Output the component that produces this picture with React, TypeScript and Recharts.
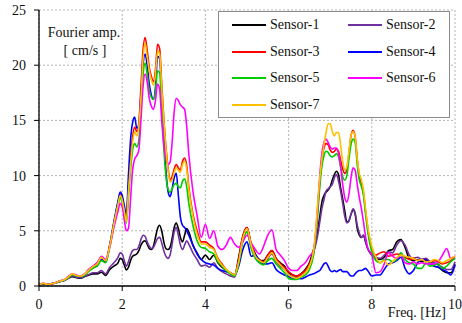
import { LineChart, Line, XAxis, YAxis, CartesianGrid, Legend, Label } from "recharts"

// frequency grid [Hz], finer around the peaks
const FREQ = [
  0, 0.1, 0.2, 0.3, 0.4, 0.5, 0.6, 0.7, 0.8, 0.9, 1, 1.1, 1.2, 1.3, 1.4, 1.5, 1.6, 1.7, 1.8,
  1.9, 1.95, 2, 2.05, 2.1, 2.15, 2.2, 2.25, 2.3, 2.35, 2.4, 2.45, 2.5, 2.55, 2.6, 2.65, 2.7, 2.75, 2.8, 2.85,
  2.9, 2.95, 3, 3.05, 3.1, 3.15, 3.2, 3.25, 3.3, 3.35, 3.4, 3.45, 3.5, 3.55, 3.6,
  3.7, 3.8, 3.9, 4, 4.1, 4.2, 4.3, 4.4, 4.5, 4.6, 4.7, 4.8, 4.9, 5, 5.1, 5.2, 5.3, 5.4, 5.5, 5.6, 5.7, 5.8,
  5.9, 6, 6.1, 6.2, 6.3, 6.4, 6.5,
  6.6, 6.65, 6.7, 6.75, 6.8, 6.85, 6.9, 6.95, 7, 7.05, 7.1, 7.15, 7.2, 7.25, 7.3, 7.35, 7.4, 7.45, 7.5, 7.55,
  7.6, 7.65, 7.7, 7.75, 7.8, 7.85, 7.9,
  8, 8.1, 8.2, 8.3, 8.4, 8.5, 8.6, 8.7, 8.8, 8.9, 9, 9.1, 9.2, 9.3, 9.4, 9.5, 9.6, 9.7, 9.8, 9.9, 10,
]

const SENSOR_1 = [
  0.1, 0.2, 0.15, 0.2, 0.3, 0.4, 0.5, 0.7, 0.85, 0.75, 0.7, 0.85, 1.0, 1.1, 1.1, 1.25, 0.95, 1.5, 1.8,
  2.1, 2.5, 2.4, 1.9, 1.45, 1.7, 2.3, 2.7, 2.8, 2.9, 3.2, 3.7, 4.0, 4.1, 3.8, 3.4, 3.3, 3.6, 4.4, 5.2, 5.5, 5.0,
  4.0, 3.4, 3.3, 3.5, 4.3, 5.3, 5.7, 5.2, 4.4, 4.0, 4.6, 5.2, 4.9,
  3.7, 3.0, 2.4, 2.8, 2.4, 2.8, 2.1, 1.7, 1.4, 1.1, 0.9, 2.6, 4.5, 5.3, 3.8, 2.9, 2.3, 2.3, 2.8, 3.2, 2.5, 2.1,
  1.8, 1.2, 1.0, 0.9, 1.1, 1.5, 2.1,
  3.3, 4.0, 5.0, 6.3, 7.6, 8.2, 8.5, 8.7, 9.0, 9.6, 10.1, 10.4, 10.1, 8.9, 7.9, 6.8, 5.8, 5.9, 6.5, 6.9, 6.5,
  5.2, 4.6, 4.4, 4.6, 4.0, 3.4,
  2.8, 2.5, 2.4, 2.6, 3.2, 3.3, 4.0, 4.2, 3.5, 2.5, 2.3, 2.4, 2.2, 2.3, 2.1, 1.8, 1.7, 1.4, 1.2, 1.2, 2.0,
]

const SENSOR_2 = [
  0.1, 0.2, 0.15, 0.2, 0.3, 0.4, 0.5, 0.7, 0.9, 0.8, 0.75, 0.9, 1.05, 1.2, 1.2, 1.4, 1.1, 1.7, 2.1,
  2.6, 3.0, 2.9, 2.3, 1.8, 2.2, 2.8, 3.2, 3.3, 3.3, 3.6, 4.2, 4.6, 4.5, 4.0, 3.6, 3.4, 3.5, 3.9, 4.3, 4.4, 3.9,
  3.2, 2.7, 2.5, 2.8, 3.8, 4.9, 5.3, 4.6, 3.7, 3.3, 3.7, 4.1, 3.8,
  3.0, 2.4, 1.8, 1.9, 1.7, 2.1, 1.6, 1.3, 1.1, 0.9, 0.8, 2.2, 4.2, 4.9, 3.5, 2.6, 2.1, 2.0, 2.5, 2.9, 2.2, 1.8,
  1.5, 1.0, 0.8, 0.8, 1.0, 1.3, 1.9,
  3.0, 3.7, 4.6, 5.8, 7.0, 7.8, 8.6, 8.8, 9.0, 9.2, 9.8, 10.1, 9.5, 8.6, 7.5, 6.3, 5.7, 5.9, 6.5, 7.0, 6.6,
  5.5, 4.8, 4.4, 4.6, 4.0, 3.4,
  2.9, 2.6, 2.5, 2.8, 3.1, 3.0, 3.7, 4.1, 3.7, 2.8, 2.5, 2.6, 2.4, 2.5, 2.2, 2.1, 1.9, 1.7, 1.5, 1.5, 2.2,
]

const SENSOR_3 = [
  0.1, 0.25, 0.15, 0.2, 0.3, 0.45, 0.55, 0.8, 1.0, 0.95, 0.9, 1.1, 1.5, 1.8, 2.1, 2.6, 2.3, 3.7, 5.7,
  7.5, 8.3, 7.9, 6.9, 6.0, 8.8, 11.5, 13.5, 14.4, 14.0, 14.8, 18.0, 21.3, 22.5, 21.4, 19.8, 19.0, 18.5, 19.6,
  21.9, 21.5, 18.3, 15.2, 12.6, 10.8, 9.6, 9.9, 10.6, 11.0, 10.7, 10.5, 11.3, 11.6, 10.9, 9.0,
  6.5, 5.0, 4.0, 4.0, 3.7, 3.4, 2.5, 2.0, 1.5, 1.2, 1.0, 2.4, 4.5, 5.3, 3.8, 2.8, 2.4, 2.2, 2.8, 3.2, 2.5, 2.0,
  1.7, 1.3, 1.0, 0.9, 1.1, 1.4, 2.0,
  3.0, 4.6, 7.0, 9.5, 11.5, 12.5, 12.9, 12.8, 12.3, 12.1, 12.2, 12.4, 12.2, 11.4, 10.6, 10.2, 10.5, 12.0, 13.6,
  14.1, 13.5, 11.5, 10.0, 9.3, 8.4, 6.8, 5.3,
  3.3, 2.8, 3.0, 3.1, 2.7, 2.8, 2.9, 2.8, 2.6, 2.4, 2.5, 2.3, 2.4, 2.4, 2.2, 2.3, 2.2, 2.0, 2.1, 2.3, 2.6,
]

const SENSOR_4 = [
  0.1, 0.2, 0.15, 0.2, 0.3, 0.45, 0.5, 0.8, 1.0, 0.9, 0.85, 1.05, 1.4, 1.7, 1.9, 2.4, 2.2, 3.7, 5.8,
  7.7, 8.5, 8.2, 7.3, 6.4, 10.0, 13.2, 14.8, 15.3, 14.3, 14.5, 17.2, 20.0, 21.0, 20.0, 18.3, 17.3, 16.9, 18.0,
  20.8, 20.6, 17.0, 13.5, 10.5, 8.6, 8.1, 8.8, 9.8, 10.2, 8.2, 6.2, 5.5, 5.3, 5.0, 4.6,
  3.7, 2.9, 2.4, 2.1, 2.0, 1.9, 1.6, 1.4, 1.3, 1.2, 1.0, 1.8, 3.3, 4.0, 2.7, 2.8, 2.3, 2.0, 2.0, 2.1, 1.5, 1.2,
  1.0, 0.85, 0.7, 0.7, 0.65, 0.8, 1.0,
  1.1, 1.2, 1.3, 1.4, 1.7, 2.0, 2.1, 1.8, 1.4, 1.3, 1.4, 1.3, 1.4, 1.5, 1.3, 1.3, 1.3, 1.1, 0.9, 0.9, 1.1,
  1.3, 1.4, 1.4, 1.5, 1.6, 1.4,
  0.9, 1.0, 1.0, 1.5, 2.0, 2.1, 2.3, 2.6, 1.6, 1.1, 1.4, 2.1, 2.4, 2.4, 2.0, 1.8, 1.7, 1.5, 1.3, 1.0, 1.9,
]

const SENSOR_5 = [
  0.1, 0.2, 0.15, 0.2, 0.3, 0.4, 0.5, 0.75, 1.0, 0.9, 0.85, 1.0, 1.35, 1.6, 1.8, 2.3, 2.1, 3.5, 5.5,
  7.3, 8.0, 7.6, 6.6, 5.7, 8.0, 10.5, 12.3, 12.9, 12.6, 13.2, 16.0, 19.0, 20.2, 19.2, 17.7, 17.1, 16.9, 17.6,
  19.5, 19.3, 16.0, 12.5, 10.0, 8.8, 8.5, 8.8, 9.2, 9.3, 9.0, 8.9, 9.5, 9.7, 9.0, 7.5,
  5.5, 4.1, 3.5, 3.4, 3.1, 2.9, 2.2, 1.8, 1.4, 1.1, 0.9, 2.0, 4.0, 4.9, 3.4, 2.5, 2.1, 1.9, 2.3, 2.5, 2.0, 1.6,
  1.2, 0.7, 0.6, 0.6, 0.8, 1.0, 1.5,
  2.8, 4.3, 6.5, 9.0, 10.8, 11.8, 12.2, 12.1, 11.8, 11.7, 11.8, 12.0, 11.7, 10.8, 9.9, 9.6, 10.0, 11.5, 12.8,
  13.3, 13.0, 11.0, 9.6, 9.0, 8.2, 6.5, 5.0,
  3.1, 2.3, 2.1, 2.4, 2.4, 2.2, 2.4, 3.0, 2.4, 2.1, 2.0, 1.6, 1.6, 2.1, 1.8, 1.9, 2.0, 1.6, 1.8, 2.2, 2.5,
]

const SENSOR_6 = [
  0.1, 0.25, 0.15, 0.2, 0.3, 0.45, 0.55, 0.85, 1.1, 1.0, 0.9, 1.1, 1.5, 1.8, 2.1, 2.7, 2.4, 3.5, 5.3,
  6.8, 7.5, 7.2, 6.0, 5.0, 5.2, 7.8, 10.5, 11.5, 11.8, 12.3, 15.0, 18.0, 19.2, 18.5, 17.0, 16.3, 16.0, 16.8,
  18.3, 17.8, 15.0, 12.8, 11.5, 11.0, 11.2, 13.0, 15.8, 17.0, 16.8, 16.4, 16.2, 16.0, 14.5, 12.0,
  8.6, 6.4, 4.4, 5.6, 4.3, 5.0, 3.6, 3.3, 3.7, 4.4, 3.8, 3.5, 4.0, 4.6, 3.9, 3.3, 2.9, 3.6, 4.6, 5.1, 3.3, 2.8,
  2.3, 1.6, 1.4, 1.4, 1.8, 2.1, 2.7,
  3.2, 4.8, 7.2, 10.0, 12.0, 13.0, 13.3, 13.0, 12.6, 12.4, 12.5, 12.5, 12.0, 10.8, 9.2, 8.0, 7.6, 8.3, 9.8,
  10.7, 10.5, 9.2, 8.0, 7.0, 5.8, 4.5, 3.5,
  2.8, 1.2, 1.3, 2.0, 3.0, 2.7, 2.5, 2.8, 2.1, 2.0, 2.2, 2.0, 2.1, 2.0, 2.0, 2.0, 2.2, 2.8, 3.4, 2.5, 2.7,
]

const SENSOR_7 = [
  0.1, 0.25, 0.15, 0.2, 0.3, 0.45, 0.55, 0.8, 1.1, 0.95, 0.9, 1.1, 1.45, 1.75, 2.0, 2.6, 2.3, 3.6, 5.6,
  7.4, 8.2, 7.8, 6.8, 5.8, 8.5, 11.0, 13.0, 14.0, 13.6, 14.5, 17.0, 20.5, 22.0, 20.8, 19.5, 18.7, 18.2, 19.2,
  21.3, 21.0, 18.0, 15.0, 12.5, 10.6, 9.4, 9.6, 10.3, 10.7, 10.5, 10.3, 11.0, 11.3, 10.6, 8.8,
  6.3, 4.7, 3.8, 3.8, 3.5, 3.3, 2.4, 1.9, 1.5, 1.2, 1.0, 2.2, 4.3, 5.2, 3.7, 2.7, 2.3, 2.1, 2.6, 3.0, 2.3, 1.9,
  1.5, 1.0, 0.8, 0.7, 0.9, 1.2, 1.8,
  3.2, 5.0, 7.5, 9.8, 11.5, 12.8, 13.9, 14.7, 14.7, 14.0, 13.6, 13.9, 13.9, 12.8, 11.3, 10.5, 10.8, 12.2, 13.6,
  14.0, 13.5, 11.5, 10.2, 9.6, 8.7, 7.0, 5.5,
  3.6, 2.6, 2.1, 2.3, 1.9, 2.2, 2.6, 2.8, 2.7, 2.6, 2.5, 2.3, 2.4, 2.2, 2.2, 2.4, 2.3, 2.1, 2.3, 2.5, 2.7,
]

const SERIES = [
  { key: "s1", name: "Sensor-1", color: "#000000", values: SENSOR_1 },
  { key: "s2", name: "Sensor-2", color: "#7030a0", values: SENSOR_2 },
  { key: "s3", name: "Sensor-3", color: "#ff0000", values: SENSOR_3 },
  { key: "s4", name: "Sensor-4", color: "#0000ff", values: SENSOR_4 },
  { key: "s5", name: "Sensor-5", color: "#00cc00", values: SENSOR_5 },
  { key: "s6", name: "Sensor-6", color: "#ff00ff", values: SENSOR_6 },
  { key: "s7", name: "Sensor-7", color: "#ffc000", values: SENSOR_7 },
]

const X_TICKS = [0, 2, 4, 6, 8, 10]
const Y_TICKS = [0, 5, 10, 15, 20, 25]

const FONT = "Liberation Serif, DejaVu Serif, Times New Roman, serif"

const data = FREQ.map((f, i) => {
  const row: { [k: string]: number } = { f }
  SERIES.forEach((s) => {
    row[s.key] = s.values[i]
  })
  return row
})

function LegendBox() {
  return (
    <div
      style={{
        width: 230,
        height: 105,
        border: "1px solid #8a8a8a",
        background: "#fff",
        display: "grid",
        gridTemplateColumns: "116px 114px",
        gridAutoRows: "26.5px",
        fontFamily: FONT,
        fontSize: 14,
        color: "#111",
      }}
    >
      {SERIES.map((s) => (
        <div key={s.key} style={{ display: "flex", alignItems: "center" }}>
          <span
            style={{
              display: "inline-block",
              width: 34,
              height: 2,
              background: s.color,
              marginLeft: 13,
              marginRight: 4,
            }}
          />
          <span>{s.name}</span>
        </div>
      ))}
    </div>
  )
}

export default function App() {
  const tickStyle = { fill: "#111", fontFamily: FONT, fontSize: 14 }
  return (
    <div style={{ position: "absolute", left: 0, top: 0, width: 462, height: 323, background: "#fff", fontFamily: FONT }}>
      <LineChart width={462} height={323} data={data} margin={{ top: 10, right: 7, left: 0, bottom: 0 }}>
        <CartesianGrid stroke="#b5b5b5" strokeDasharray="2 2" strokeWidth={1} />
        <XAxis
          dataKey="f"
          type="number"
          domain={[0, 10]}
          ticks={X_TICKS}
          height={37}
          tick={tickStyle}
          tickSize={5}
          tickMargin={8}
          axisLine={{ stroke: "#000", strokeWidth: 1.3 }}
          tickLine={{ stroke: "#000" }}
        >
          <Label
            content={() => (
              <text x={446} y={317} textAnchor="end" style={{ fontFamily: FONT, fontSize: 14 }} fill="#111">
                Freq. [Hz]
              </text>
            )}
          />
        </XAxis>
        <YAxis
          type="number"
          domain={[0, 25]}
          ticks={Y_TICKS}
          width={39}
          tick={tickStyle}
          tickSize={5}
          tickMargin={8}
          axisLine={{ stroke: "#000", strokeWidth: 1.3 }}
          tickLine={{ stroke: "#000" }}
        >
          <Label
            content={() => (
              <g style={{ fontFamily: FONT, fontSize: 14 }}>
                <text x={84} y={37} textAnchor="middle" fill="#111">
                  Fourier amp.
                </text>
                <text x={85} y={55} textAnchor="middle" fill="#111">
                  [ cm/s ]
                </text>
              </g>
            )}
          />
        </YAxis>
        <Legend
          layout="vertical"
          align="center"
          verticalAlign="middle"
          content={() => <LegendBox />}
          wrapperStyle={{ left: 218, top: 11, width: 232 }}
        />
        {SERIES.map((s) => (
          <Line
            key={s.key}
            type="monotone"
            dataKey={s.key}
            name={s.name}
            stroke={s.color}
            strokeWidth={1.6}
            dot={false}
            isAnimationActive={false}
          />
        ))}
      </LineChart>
    </div>
  )
}
